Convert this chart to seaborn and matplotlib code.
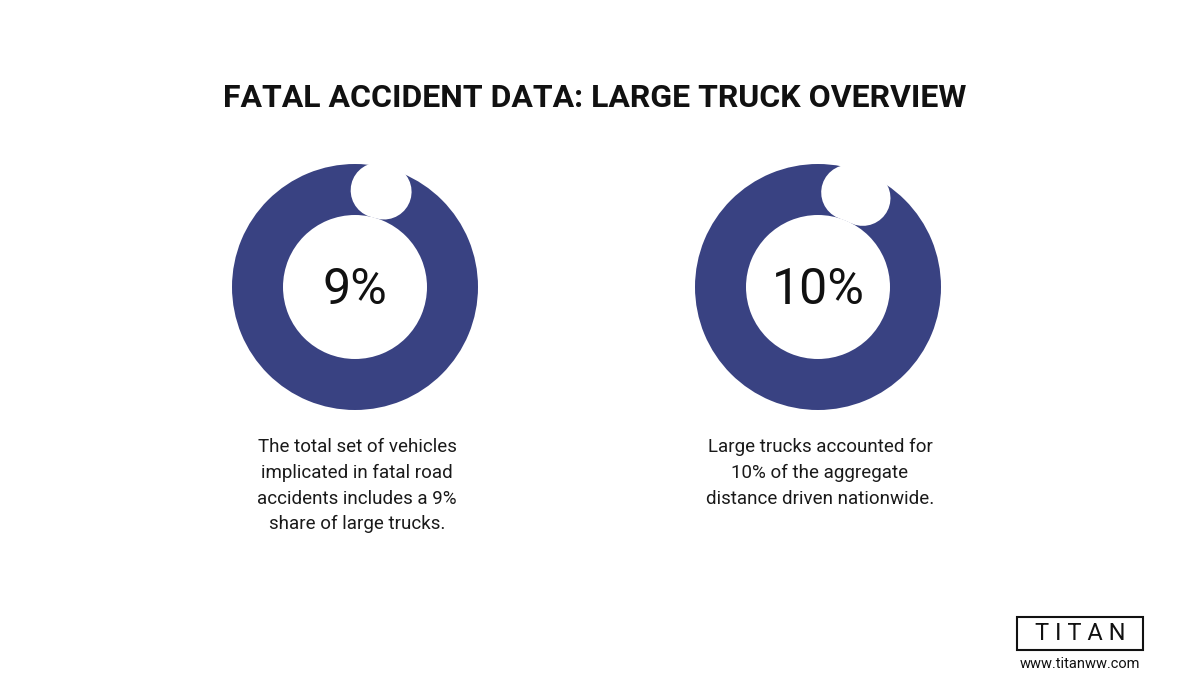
import numpy as np
import matplotlib.pyplot as plt
import matplotlib.patches as mpatches
import seaborn as sns

# Dados
percents = [9, 10]
labels = ['9%', '10%']
captions = [
    'The total set of vehicles\nimplicated in fatal road\naccidents includes a 9%\nshare of large trucks.',
    'Large trucks accounted for\n10% of the aggregate\ndistance driven nationwide.',
]
centers_x = [355, 818]

sns.set_theme(style='white')
plt.rcParams['font.family'] = ['Roboto', 'DejaVu Sans']

navy = '#394282'

fig = plt.figure(figsize=(12, 7), dpi=100)
ax = fig.add_axes([0, 0, 1, 1])
ax.set_xlim(0, 1200)
ax.set_ylim(700, 0)
ax.set_aspect('equal')
ax.axis('off')

cy = 287
r_out, r_in = 123, 72
for pct, lab, cap, cx in zip(percents, labels, captions, centers_x):
    ring = mpatches.Wedge((cx, cy), r_out, 0, 360, width=r_out - r_in, color=navy, lw=0)
    ax.add_patch(ring)
    # arco branco arredondado indicando a parcela
    deg = pct * 3.6
    ang = np.radians(np.linspace(0.42 * deg + (pct - 9) * 3, 0.52 * deg + (pct - 9) * 8, 30))
    rm = (r_out + r_in) / 2 + 2
    ax.plot(cx + rm * np.sin(ang), cy - rm * np.cos(ang), color='white',
            lw=40, solid_capstyle='round')
    ax.text(cx, cy + 3, lab, ha='center', va='center', fontsize=36,
            color='#111111')
    ax.text(cx + 2, 438, cap, ha='center', va='top', fontsize=13.5,
            linespacing=1.55, color='#1a1a1a')

ax.text(595, 98, 'FATAL ACCIDENT DATA: LARGE TRUCK OVERVIEW', ha='center', va='center',
        fontsize=23, fontweight='bold', color='#111111')

# logo
ax.add_patch(mpatches.Rectangle((1017, 617), 126, 33, fill=False, ec='#111111', lw=1.5))
ax.text(1080, 634, 'T I T A N', ha='center', va='center', fontsize=17, color='#111111')
ax.text(1080, 664, 'www.titanww.com', ha='center', va='center', fontsize=10.5, color='#111111')

fig.savefig('out.png', dpi=100)
